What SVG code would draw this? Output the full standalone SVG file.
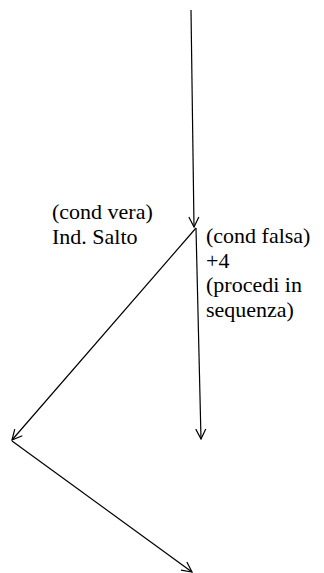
<svg xmlns="http://www.w3.org/2000/svg" width="324" height="573" viewBox="0 0 324 573">
<defs>
<marker id="ah" viewBox="0 0 12 12" refX="11" refY="6" markerWidth="12" markerHeight="12" markerUnits="userSpaceOnUse" orient="auto">
<path d="M1,1 L11,6 L1,11" fill="none" stroke="#000" stroke-width="1.2"/>
</marker>
</defs>
<rect width="324" height="573" fill="#fff"/>
<g id="connectors" stroke="#000" stroke-width="1.2" fill="none">
<line x1="191" y1="10" x2="194" y2="227" marker-end="url(#ah)"/>
<line x1="196" y1="228" x2="201" y2="439" marker-end="url(#ah)"/>
<line x1="196" y1="228" x2="12" y2="440" marker-end="url(#ah)"/>
<line x1="12" y1="441" x2="192" y2="572" marker-end="url(#ah)"/>
</g>
<g id="label-vera">
<text x="52" y="219" font-size="22" font-family="'Liberation Serif'">(cond vera)</text>
<text x="52" y="244" font-size="22" font-family="'Liberation Serif'">Ind. Salto</text>
</g>
<g id="label-falsa">
<text x="206" y="243" font-size="22" font-family="'Liberation Serif'">(cond falsa)</text>
<text x="206" y="267.5" font-size="22" font-family="'Liberation Serif'">+4</text>
<text x="206" y="292" font-size="22" font-family="'Liberation Serif'">(procedi in</text>
<text x="206" y="316.5" font-size="22" font-family="'Liberation Serif'">sequenza)</text>
</g>
</svg>
